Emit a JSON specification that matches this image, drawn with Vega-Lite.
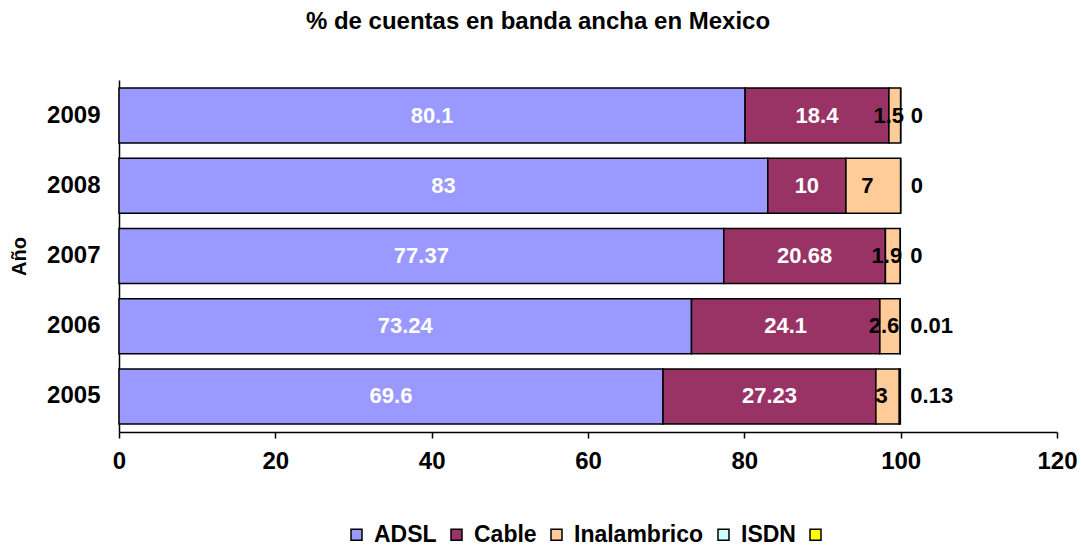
{
  "$schema": "https://vega.github.io/schema/vega-lite/v6.json",
  "width": 938,
  "height": 352,
  "autosize": "none",
  "padding": {"left": 119, "top": 80, "right": 24, "bottom": 114},
  "background": "white",
  "config": {"view": {"stroke": null}, "font": "Liberation Sans"},
  "title": {
    "text": "% de cuentas en banda ancha en Mexico",
    "font": "Liberation Sans",
    "fontSize": 24,
    "fontWeight": "bold",
    "color": "black",
    "anchor": "middle",
    "dx": -50,
    "offset": 46
  },
  "data": {
    "values": [
      {"anio": "2009", "tipo": "ADSL", "valor": 80.1},
      {"anio": "2009", "tipo": "Cable", "valor": 18.4},
      {"anio": "2009", "tipo": "Inalambrico", "valor": 1.5},
      {"anio": "2009", "tipo": "ISDN", "valor": 0},
      {"anio": "2008", "tipo": "ADSL", "valor": 83},
      {"anio": "2008", "tipo": "Cable", "valor": 10},
      {"anio": "2008", "tipo": "Inalambrico", "valor": 7},
      {"anio": "2008", "tipo": "ISDN", "valor": 0},
      {"anio": "2007", "tipo": "ADSL", "valor": 77.37},
      {"anio": "2007", "tipo": "Cable", "valor": 20.68},
      {"anio": "2007", "tipo": "Inalambrico", "valor": 1.9},
      {"anio": "2007", "tipo": "ISDN", "valor": 0},
      {"anio": "2006", "tipo": "ADSL", "valor": 73.24},
      {"anio": "2006", "tipo": "Cable", "valor": 24.1},
      {"anio": "2006", "tipo": "Inalambrico", "valor": 2.6},
      {"anio": "2006", "tipo": "ISDN", "valor": 0.01},
      {"anio": "2005", "tipo": "ADSL", "valor": 69.6},
      {"anio": "2005", "tipo": "Cable", "valor": 27.23},
      {"anio": "2005", "tipo": "Inalambrico", "valor": 3},
      {"anio": "2005", "tipo": "ISDN", "valor": 0.13}
    ]
  },
  "transform": [
    {"calculate": "indexof(['ADSL','Cable','Inalambrico','ISDN'], datum.tipo)", "as": "orden"}
  ],
  "encoding": {
    "y": {
      "field": "anio",
      "type": "nominal",
      "sort": "descending",
      "title": "Año",
      "scale": {"paddingInner": 0.217, "paddingOuter": 0.114},
      "axis": {
        "titleFont": "Liberation Sans",
        "titleFontSize": 20,
        "titleFontWeight": "bold",
        "titleColor": "black",
        "titlePadding": 17,
        "labelFont": "Liberation Sans",
        "labelFontSize": 24,
        "labelFontWeight": "bold",
        "labelColor": "black",
        "labelPadding": 19,
        "ticks": false,
        "domainColor": "black",
        "domainWidth": 1.5
      }
    },
    "x": {
      "field": "valor",
      "type": "quantitative",
      "stack": "zero",
      "scale": {"domain": [0, 120]},
      "axis": {
        "title": null,
        "values": [0, 20, 40, 60, 80, 100, 120],
        "grid": false,
        "tickColor": "black",
        "tickSize": 6,
        "tickWidth": 1.5,
        "domainColor": "black",
        "domainWidth": 1.5,
        "labelFont": "Liberation Sans",
        "labelFontSize": 24,
        "labelFontWeight": "bold",
        "labelColor": "black",
        "labelPadding": 11,
        "labelFlush": false
      }
    },
    "order": {"field": "orden", "type": "quantitative"}
  },
  "layer": [
    {
      "mark": {"type": "bar", "stroke": "black", "strokeWidth": 1.5},
      "encoding": {
        "color": {
          "field": "tipo",
          "type": "nominal",
          "scale": {
            "domain": ["ADSL", "Cable", "Inalambrico", "ISDN", ""],
            "range": ["#9999FF", "#993366", "#FFCC99", "#CCFFFF", "#FFFF00"]
          },
          "legend": {
            "orient": "none",
            "legendX": 226,
            "legendY": 443,
            "padding": 0,
            "direction": "horizontal",
            "title": null,
            "symbolType": "square",
            "symbolSize": 121,
            "symbolStrokeColor": "black",
            "symbolStrokeWidth": 1.5,
            "labelFont": "Liberation Sans",
            "labelFontSize": 23,
            "labelFontWeight": "bold",
            "labelColor": "black",
            "labelOffset": 6,
            "columnPadding": 8
          }
        }
      }
    },
    {
      "mark": {"type": "text", "font": "Liberation Sans", "fontSize": 22, "fontWeight": "bold", "color": "white"},
      "encoding": {
        "x": {"field": "valor", "type": "quantitative", "stack": "zero", "bandPosition": 0.5},
        "detail": {"field": "tipo"},
        "text": {"condition": {"test": "datum.tipo === 'ADSL' || datum.tipo === 'Cable'", "field": "valor", "type": "nominal"}, "value": ""}
      }
    },
    {
      "mark": {"type": "text", "font": "Liberation Sans", "fontSize": 22, "fontWeight": "bold", "color": "black", "dx": -6},
      "encoding": {
        "x": {"field": "valor", "type": "quantitative", "stack": "zero", "bandPosition": 0.5},
        "detail": {"field": "tipo"},
        "text": {"condition": {"test": "datum.tipo === 'Inalambrico'", "field": "valor", "type": "nominal"}, "value": ""}
      }
    },
    {
      "mark": {"type": "text", "font": "Liberation Sans", "fontSize": 22, "fontWeight": "bold", "align": "left", "dx": 10, "color": "black"},
      "encoding": {
        "detail": {"field": "tipo"},
        "text": {"condition": {"test": "datum.tipo === 'ISDN'", "field": "valor", "type": "nominal"}, "value": ""}
      }
    }
  ]
}
